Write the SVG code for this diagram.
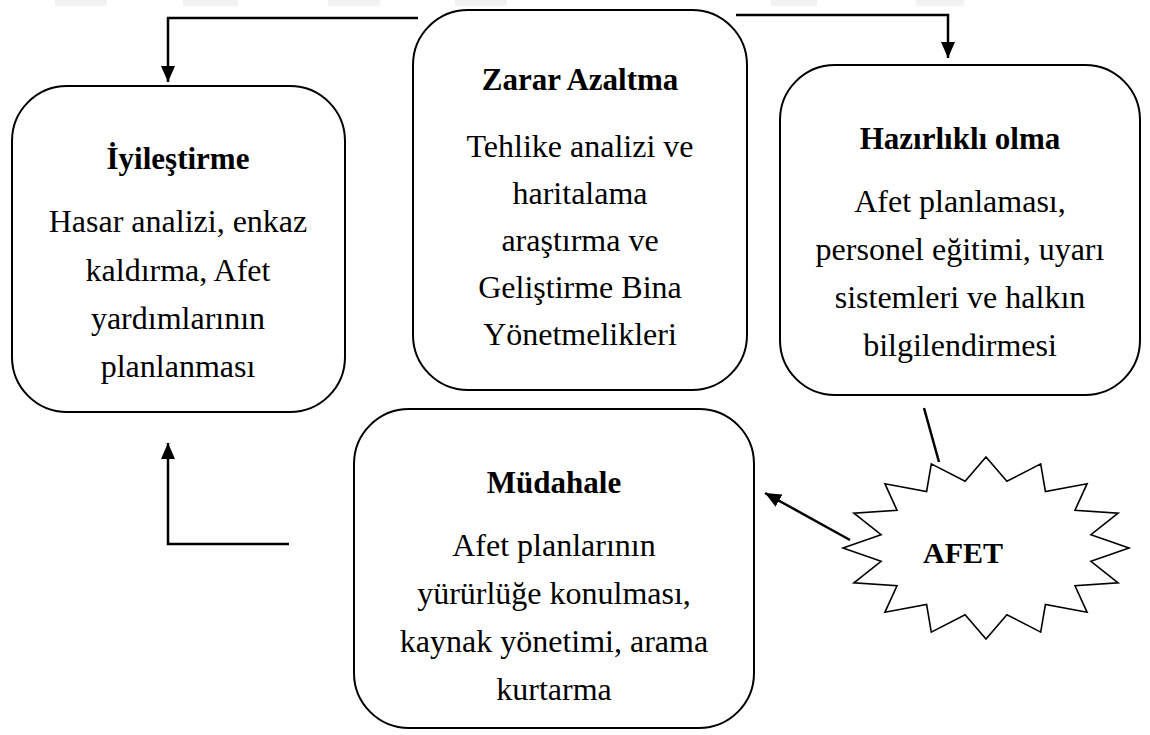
<svg xmlns="http://www.w3.org/2000/svg" width="1150" height="735" viewBox="0 0 1150 735">
  <defs>
    <marker id="arrow" viewBox="0 0 16 14" markerWidth="16" markerHeight="14" refX="16" refY="7" orient="auto" markerUnits="userSpaceOnUse">
      <path d="M0,0 L16,7 L0,14 z" fill="#000"/>
    </marker>
    <style>
      .box { fill: #fff; stroke: #000; stroke-width: 2; }
      text { font-family: "Liberation Serif", "Times New Roman", serif; fill: #000; text-anchor: middle; }
      .title { font-weight: bold; font-size: 31px; }
      .body { font-size: 32px; }
      .link { fill: none; stroke: #000; stroke-width: 2.5; }
      .smudge { fill: #f2f2f2; }
    </style>
  </defs>

  <rect width="1150" height="735" fill="#fff"/>

  <!-- faint marks along the top edge -->
  <g id="top-marks">
    <rect class="smudge" x="55" y="0" width="52" height="6"/>
    <rect class="smudge" x="183" y="0" width="55" height="6"/>
    <rect class="smudge" x="328" y="0" width="52" height="6"/>
    <rect class="smudge" x="455" y="0" width="52" height="6"/>
    <rect class="smudge" x="771" y="0" width="46" height="6"/>
    <rect class="smudge" x="916" y="0" width="48" height="6"/>
  </g>

  <!-- connectors -->
  <g id="connectors">
    <polyline class="link" points="418,18 168,18 168,82" marker-end="url(#arrow)"/>
    <polyline class="link" points="736,15 948,15 948,58" marker-end="url(#arrow)"/>
    <polyline class="link" points="289,544 168,544 168,443" marker-end="url(#arrow)"/>
    <line class="link" x1="924" y1="408" x2="939" y2="462"/>
    <line class="link" x1="850" y1="540" x2="765" y2="493" marker-end="url(#arrow)"/>
  </g>

  <g id="zarar-azaltma">
    <rect class="box" x="413" y="10" width="334" height="380" rx="55" ry="55"/>
    <text class="title" x="580" y="90">Zarar Azaltma</text>
    <text class="body" x="580" y="157">Tehlike analizi ve</text>
    <text class="body" x="580" y="204">haritalama</text>
    <text class="body" x="580" y="251">araştırma ve</text>
    <text class="body" x="580" y="298">Geliştirme Bina</text>
    <text class="body" x="580" y="345">Yönetmelikleri</text>
  </g>

  <g id="iyilestirme">
    <rect class="box" x="12" y="86" width="333" height="326" rx="55" ry="55"/>
    <text class="title" x="178" y="169">İyileştirme</text>
    <text class="body" x="178" y="232">Hasar analizi, enkaz</text>
    <text class="body" x="178" y="281">kaldırma, Afet</text>
    <text class="body" x="178" y="329">yardımlarının</text>
    <text class="body" x="178" y="377">planlanması</text>
  </g>

  <g id="hazirlikli-olma">
    <rect class="box" x="780" y="65" width="360" height="330" rx="55" ry="55"/>
    <text class="title" x="960" y="149">Hazırlıklı olma</text>
    <text class="body" x="960" y="212">Afet planlaması,</text>
    <text class="body" x="960" y="260">personel eğitimi, uyarı</text>
    <text class="body" x="960" y="308">sistemleri ve halkın</text>
    <text class="body" x="960" y="356">bilgilendirmesi</text>
  </g>

  <g id="mudahale">
    <rect class="box" x="354" y="409" width="400" height="319" rx="55" ry="55"/>
    <text class="title" x="554" y="493">Müdahale</text>
    <text class="body" x="554" y="556">Afet planlarının</text>
    <text class="body" x="554" y="604">yürürlüğe konulması,</text>
    <text class="body" x="554" y="652">kaynak yönetimi, arama</text>
    <text class="body" x="554" y="700">kurtarma</text>
  </g>

  <g id="afet">
    <!-- sixteen-point burst -->
    <polygon fill="#fff" stroke="#000" stroke-width="1.6" stroke-linejoin="miter"
      points="1129,548 1090.9,534.7 1118.1,513.2 1075,510.2 1087.1,483.7 1045.4,491.5 1040.7,463.9 1006.9,481.3 986,457 965.1,481.3 931.3,463.9 926.6,491.5 884.9,483.7 897,510.2 853.9,513.2 881.1,534.7 843,548 881.1,561.3 853.9,582.8 897,585.8 884.9,612.3 926.6,604.5 931.3,632.1 965.1,614.7 986,639 1006.9,614.7 1040.7,632.1 1045.4,604.5 1087.1,612.3 1075,585.8 1118.1,582.8 1090.9,561.3"/>
    <text class="title" x="963" y="563" style="font-size:30px">AFET</text>
  </g>
</svg>
